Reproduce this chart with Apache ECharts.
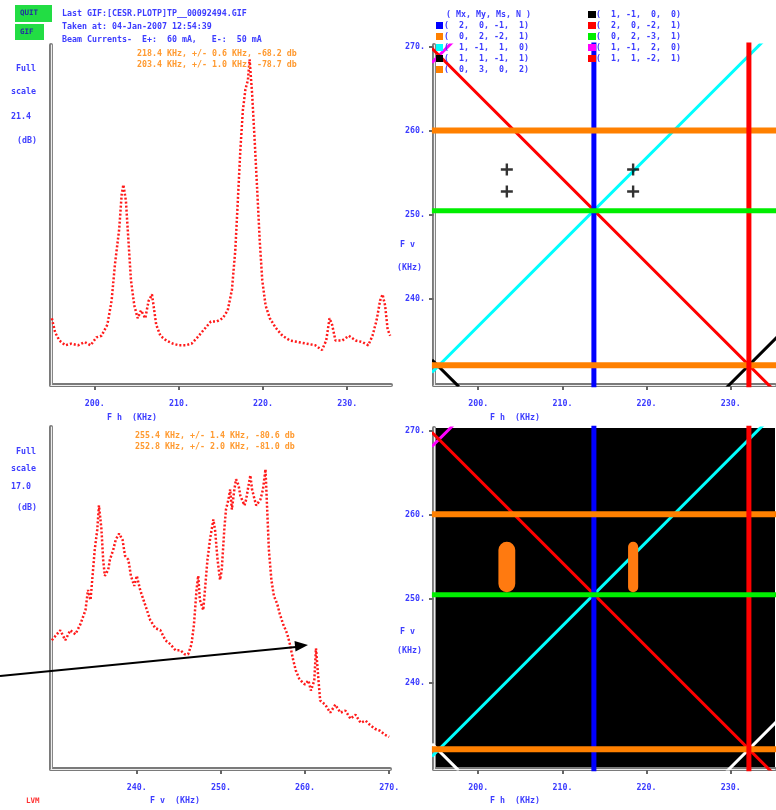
<!DOCTYPE html>
<html><head><meta charset="utf-8">
<script src="https://cdn.jsdelivr.net/npm/echarts@6/dist/echarts.min.js"></script>
<style>html,body{margin:0;padding:0;background:#fff}#c{width:776px;height:810px}</style>
</head><body><div id="c"></div><script>
// Horizontal sweep spectrum (F h, kHz) and level (dB above floor)
const FH_TOP = [194.9,195.3,195.8,196.5,197.2,198.0,198.8,199.5,200.2,200.8,201.5,202.0,202.4,202.9,203.2,203.4,203.7,204.0,204.3,204.7,205.1,205.5,206.0,206.4,206.8,207.3,207.8,208.5,209.3,210.0,210.8,211.5,212.2,213.0,213.8,214.5,215.2,215.8,216.3,216.7,217.0,217.3,217.6,217.9,218.2,218.4,218.7,219.0,219.3,219.6,219.9,220.3,220.8,221.5,222.3,223.2,224.2,225.2,226.2,227.0,227.5,227.9,228.2,228.6,229.4,230.2,231.0,231.8,232.5,233.0,233.5,233.9,234.2,234.5,234.8,235.1];
const DB_TOP = [4.2,3.3,2.8,2.5,2.6,2.5,2.7,2.5,3.0,3.1,3.8,5.3,7.6,9.8,12.0,12.6,11.6,9.1,6.6,5.0,4.2,4.7,4.2,5.3,5.7,3.8,3.1,2.8,2.6,2.5,2.5,2.6,3.0,3.5,4.0,4.0,4.2,4.7,6.0,8.5,11.6,14.8,17.3,18.6,19.2,20.5,18.3,15.4,12.3,9.1,6.6,5.0,4.2,3.6,3.1,2.8,2.7,2.6,2.5,2.2,2.8,4.2,3.8,2.8,2.8,3.1,2.8,2.7,2.5,3.1,4.1,5.3,5.7,5.0,3.5,3.1];
// Vertical sweep spectrum (F v, kHz)
const FV_BOT = [229.9,230.9,231.5,232.1,232.7,233.3,233.9,234.2,234.5,234.7,235.0,235.3,235.5,235.8,236.0,236.2,236.6,236.8,237.2,237.5,237.9,238.3,238.6,239.0,239.3,239.7,240.0,240.4,240.8,241.2,241.6,242.2,242.8,243.4,244.0,244.6,245.2,245.7,246.1,246.5,246.8,247.1,247.3,247.5,247.9,248.1,248.4,248.7,249.1,249.3,249.6,249.9,250.1,250.4,250.6,250.9,251.1,251.3,251.6,251.8,252.1,252.3,252.5,252.8,253.0,253.2,253.5,253.7,254.0,254.2,254.4,254.7,255.0,255.3,255.5,255.7,256.0,256.3,256.7,257.0,257.4,257.9,258.2,258.6,258.9,259.3,259.7,260.0,260.4,260.7,261.1,261.3,261.6,261.8,262.4,263.0,263.6,264.2,264.8,265.4,266.0,266.6,267.2,267.7,268.3,268.9,269.5,270.0];
const DB_BOT = [6.4,6.9,6.4,6.9,6.7,7.2,7.9,8.9,8.4,9.4,10.9,11.9,13.1,11.9,10.4,9.6,9.9,10.4,10.9,11.4,11.7,11.4,10.6,10.4,9.6,9.1,9.6,8.9,8.4,7.9,7.4,7.0,6.9,6.4,6.2,5.9,5.9,5.7,5.7,6.2,7.2,8.9,9.6,8.4,7.9,8.9,10.4,11.4,12.4,11.9,10.4,9.4,9.9,11.9,12.9,13.4,13.9,12.9,13.9,14.4,14.1,13.6,13.4,13.1,13.4,13.9,14.6,13.9,13.4,13.1,13.1,13.4,13.9,14.9,12.9,10.9,9.4,8.6,8.2,7.7,7.2,6.7,6.2,5.4,4.9,4.5,4.3,4.2,4.4,3.9,4.4,6.0,4.4,3.4,3.2,2.8,3.2,2.8,2.9,2.5,2.7,2.3,2.4,2.2,2.0,1.9,1.7,1.6];

// Fitted peaks: frequency, half width, level
const PEAK_H = [218.4, 203.4];
const WIDTH_H = [0.6, 1.0];
const LEVEL_H = [-68.2, -78.7];
const PEAK_V = [255.4, 252.8];
const WIDTH_V = [1.4, 2.0];
const LEVEL_V = [-80.6, -81.0];

const FULL_SCALE_TOP = 21.4;
const FULL_SCALE_BOT = 17.0;

// Resonance lines (Mx, My, Ms, N) and their end points in (F h, F v)
const RES_TUPLES = [[2,0,-1,1],[0,2,-2,1],[1,-1,1,0],[1,1,-1,1],[0,3,0,2],[1,-1,0,0],[2,0,-2,1],[0,2,-3,1],[1,-1,2,0],[1,1,-2,1]];
const RES_ENDS = [
  [[213.74,229.5],[213.74,270.6]],
  [[194.5,232.15],[235.5,232.15]],
  [[194.5,231.3],[235.5,272.3]],
  [[194.5,232.8],[197.7,229.6]],
  [[194.5,260.05],[235.5,260.05]],
  [[229.5,229.5],[235.5,235.5]],
  [[232.15,229.5],[232.15,270.6]],
  [[194.5,250.5],[235.5,250.5]],
  [[194.5,268.1],[197.0,270.6]],
  [[194.5,269.8],[235.5,228.8]]
];
const H_TICKS = [200, 210, 220, 230];
const V_TICKS = [240, 250, 260, 270];

// ---- styles ----
const RES_COLORS = ['#0000ff','#ff8000','#00ffff','#000000','#ff8000','#000000','#ff0000','#00ee00','#ff00ff','#ff0000'];
const RES_WIDTH = [5,6,3,3,6,3,5,5,3,3];
const FONT = '"DejaVu Sans Mono", monospace';
const BLUE = '#3c3cff';
const ORANGE = '#ff9a30';
const RED = '#ff1a1a';

function txt(x, y, s, color, size, align) {
  return { type: 'text', x: x, y: y, z: 100, silent: true,
    style: { text: s, fill: color || BLUE, fontFamily: FONT, fontSize: size || 8.3, fontWeight: 'bold',
      align: align || 'left', verticalAlign: 'middle' } };
}
const fmtTuple = t => '(' + t.map(v => String(v).padStart(3)).join(',') + ')';
const fmtPeak = (f, w, l) => f.toFixed(1) + ' KHz, +/- ' + w.toFixed(1) + ' KHz, ' + l.toFixed(1) + ' db';

const grids = [
  { left: 51, top: 45, width: 340, height: 340 },
  { left: 434, top: 45, width: 341, height: 340 },
  { left: 51, top: 427, width: 339, height: 342 },
  { left: 434, top: 428, width: 341, height: 341, show: true, backgroundColor: '#000', borderWidth: 0 }
];
const AX_LINE = { show: true, onZero: false, lineStyle: { color: '#7a7a7a', width: 4 } };
const INNER_LINE = { show: true, onZero: false, lineStyle: { color: '#eeeeee', width: 1.2 } };
const labelStyle = { color: BLUE, fontFamily: FONT, fontSize: 8.3, fontWeight: 'bold' };

function mainX(g, min, max, ticks) {
  return { type: 'value', gridIndex: g, min: min, max: max, position: 'bottom', z: 1,
    axisLine: AX_LINE, splitLine: { show: false },
    axisTick: { show: true, customValues: ticks, length: 5, lineStyle: { color: '#666', width: 2 } },
    axisLabel: Object.assign({ show: true, customValues: ticks, margin: 15, formatter: v => v + '.' }, labelStyle) };
}
function mainY(g, min, max, ticks) {
  const a = { type: 'value', gridIndex: g, min: min, max: max, position: 'left', z: 1,
    axisLine: AX_LINE, splitLine: { show: false }, axisTick: { show: false }, axisLabel: { show: false } };
  if (ticks) {
    a.axisTick = { show: true, customValues: ticks, length: 5, lineStyle: { color: '#666', width: 2 } };
    a.axisLabel = Object.assign({ show: true, customValues: ticks, margin: 9, formatter: v => v + '.' }, labelStyle);
  }
  return a;
}
function innerAx(g, pos) {
  return { type: 'value', gridIndex: g, min: 0, max: 1, position: pos, z: 2,
    axisLine: INNER_LINE, axisTick: { show: false }, axisLabel: { show: false }, splitLine: { show: false } };
}

const xAxis = [
  mainX(0, 194.8, 235.2, H_TICKS), mainX(1, 194.75, 235.25, H_TICKS),
  mainX(2, 229.8, 270.1, V_TICKS), mainX(3, 194.75, 235.25, H_TICKS),
  innerAx(0, 'bottom'), innerAx(1, 'bottom'), innerAx(2, 'bottom'), innerAx(3, 'bottom')
];
const yAxis = [
  mainY(0, 0, FULL_SCALE_TOP), mainY(1, 229.8, 270.2, V_TICKS),
  mainY(2, 0, FULL_SCALE_BOT), mainY(3, 229.8, 270.3, V_TICKS),
  innerAx(0, 'left'), innerAx(1, 'left'), innerAx(2, 'left'), innerAx(3, 'left')
];

const series = [];
series.push({ type: 'line', xAxisIndex: 0, yAxisIndex: 0, showSymbol: false, symbol: 'none',
  data: FH_TOP.map((f, i) => [f, DB_TOP[i]]), lineStyle: { color: RED, width: 2.5, type: [2, 2] } });
series.push({ type: 'line', xAxisIndex: 2, yAxisIndex: 2, showSymbol: false, symbol: 'none',
  data: FV_BOT.map((f, i) => [f, DB_BOT[i]]), lineStyle: { color: RED, width: 2.5, type: [2, 2] } });

// Resonance lines in both tune planes (black lines shown white on the dark plane)
[1, 3].forEach(g => {
  RES_TUPLES.forEach((t, i) => {
    let c = RES_COLORS[i];
    if (g === 3 && c === '#000000') c = '#ffffff';
    series.push({ type: 'line', xAxisIndex: g, yAxisIndex: g, data: RES_ENDS[i], symbol: 'none',
      showSymbol: false, clip: true, silent: true, z: RES_WIDTH[i] > 4 ? 3 : 2,
      lineStyle: { color: c, width: RES_WIDTH[i] } });
  });
});

// Peak crossings
const crossings = [];
PEAK_H.forEach((h, i) => PEAK_V.forEach((v, j) => crossings.push([h, v, WIDTH_H[i], WIDTH_V[j]])));
series.push({ type: 'scatter', xAxisIndex: 1, yAxisIndex: 1, z: 5,
  data: crossings.map(c => [c[0], c[1]]),
  symbol: 'path://M4,0H6V4H10V6H6V10H4V6H0V4H4Z', symbolSize: 12, itemStyle: { color: '#000' } });

// Uncertainty regions: for each horizontal peak, the F v span covered by both vertical peaks
const vLow = Math.min(...PEAK_V.map((v, j) => v - WIDTH_V[j]));
const vHigh = Math.max(...PEAK_V.map((v, j) => v + WIDTH_V[j]));
series.push({ type: 'custom', xAxisIndex: 3, yAxisIndex: 3, z: 5,
  data: PEAK_H.map((h, i) => [h - WIDTH_H[i], vHigh, h + WIDTH_H[i], vLow]),
  renderItem: (params, api) => {
    const p0 = api.coord([api.value(0), api.value(1)]);
    const p1 = api.coord([api.value(2), api.value(3)]);
    const w = p1[0] - p0[0];
    return { type: 'rect', shape: { x: p0[0], y: p0[1], width: w, height: p1[1] - p0[1], r: w / 2 },
      style: { fill: '#ff7a10' } };
  } });

const graphic = [
  { type: 'rect', shape: { x: 15, y: 5, width: 37, height: 17 }, style: { fill: '#22dd44' } },
  { type: 'rect', shape: { x: 15, y: 24, width: 29, height: 16 }, style: { fill: '#22dd44' } },
  txt(20, 13.5, 'QUIT', '#2030a0', 7.5), txt(20, 32, 'GIF', '#2030a0', 7.5),
  txt(62, 14, 'Last GIF:[CESR.PLOTP]TP__00092494.GIF'),
  txt(62, 27, 'Taken at: 04-Jan-2007 12:54:39'),
  txt(62, 40, 'Beam Currents-  E+:  60 mA,   E-:  50 mA'),
  txt(137, 54, fmtPeak(PEAK_H[0], WIDTH_H[0], LEVEL_H[0]), ORANGE),
  txt(137, 65, fmtPeak(PEAK_H[1], WIDTH_H[1], LEVEL_H[1]), ORANGE),
  txt(135, 436, fmtPeak(PEAK_V[0], WIDTH_V[0], LEVEL_V[0]), ORANGE),
  txt(135, 447, fmtPeak(PEAK_V[1], WIDTH_V[1], LEVEL_V[1]), ORANGE),
  txt(16, 69, 'Full'), txt(11, 92, 'scale'), txt(11, 117, FULL_SCALE_TOP.toFixed(1)), txt(17, 141, '(dB)'),
  txt(16, 452, 'Full'), txt(11, 469, 'scale'), txt(11, 487, FULL_SCALE_BOT.toFixed(1)), txt(17, 508, '(dB)'),
  txt(107, 418, 'F h  (KHz)'), txt(490, 418, 'F h  (KHz)'),
  txt(150, 801, 'F v  (KHz)'), txt(490, 801, 'F h  (KHz)'),
  txt(400, 245, 'F v'), txt(397, 268, '(KHz)'),
  txt(400, 632, 'F v'), txt(397, 651, '(KHz)'),
  txt(26, 801, 'LVM', '#ff3030', 7.5),
  txt(446, 15, '( Mx, My, Ms, N )')
];
// Legend of resonance tuples in two columns
const LEGEND_LEFT = [0, 1, 2, 3, 4], LEGEND_RIGHT = [5, 6, 7, 8, 9];
LEGEND_LEFT.forEach((k, r) => {
  const y = 26 + r * 11;
  graphic.push({ type: 'rect', z: 90, shape: { x: 436, y: y - 4, width: 7, height: 7 }, style: { fill: RES_COLORS[k] } });
  graphic.push(txt(444, y, fmtTuple(RES_TUPLES[k])));
});
LEGEND_RIGHT.forEach((k, r) => {
  const y = 15 + r * 11;
  graphic.push({ type: 'rect', z: 90, shape: { x: 588, y: y - 4, width: 8, height: 7 }, style: { fill: RES_COLORS[k] } });
  graphic.push(txt(596, y, fmtTuple(RES_TUPLES[k])));
});
// Annotation arrow
graphic.push({ type: 'line', z: 95, shape: { x1: 0, y1: 676, x2: 296, y2: 647 }, style: { stroke: '#000', lineWidth: 2 } });
graphic.push({ type: 'polygon', z: 95, shape: { points: [[308, 645], [295.5, 651.5], [294.5, 641]] }, style: { fill: '#000' } });

const chart = echarts.init(document.getElementById('c'), null, { renderer: 'canvas' });
chart.setOption({ animation: false, backgroundColor: '#fff', grid: grids, xAxis: xAxis, yAxis: yAxis, series: series, graphic: graphic });
</script></body></html>
